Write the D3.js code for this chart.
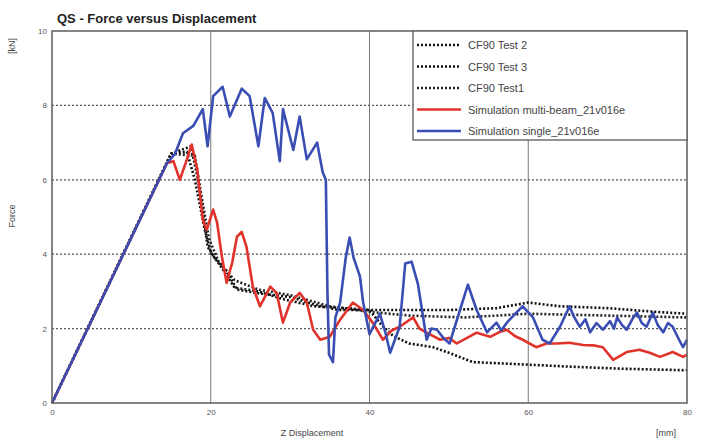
<!DOCTYPE html>
<html>
<head>
<meta charset="utf-8">
<script src="https://cdn.jsdelivr.net/npm/d3@7/dist/d3.min.js"></script>
<style>
  body { margin: 0; background: #fff; }
  svg { font-family: "Liberation Sans", Arial, sans-serif; }
</style>
</head>
<body>
<svg id="chart" width="703" height="442"></svg>
<script>
// tick values
var xTickValues = [0, 20, 40, 60, 80];
var yTickValues = [0, 2, 4, 6, 8, 10];

// CF90 test curves [mm, kN]
var test2 = [[0,0],[15,6.7],[17.5,6.9],[18.3,6.1],[19,5.2],[19.6,4.2],[20.5,3.9],[22,3.55],[23.3,3.05],[26,2.95],[30,2.85],[33,2.65],[36,2.5],[42,2.5],[50,2.5],[56,2.55],[60,2.7],[64,2.6],[70,2.55],[76,2.45],[80,2.4]];
var test3 = [[0,0],[15,6.7],[17,6.75],[18,6.0],[19.2,4.7],[20,4.05],[21.5,3.6],[23,3.1],[26,3.0],[29,2.8],[33,2.6],[37,2.55],[40,2.5],[41.5,2.1],[43,1.8],[45,1.6],[48,1.5],[50,1.35],[53,1.1],[58,1.05],[66,0.97],[72,0.92],[80,0.88]];
var test1 = [[0,0],[15,6.7],[18,6.65],[18.8,5.6],[19.8,4.4],[21,3.8],[23,3.3],[26,3.05],[30,2.9],[35,2.6],[40,2.45],[45,2.35],[52,2.3],[60,2.4],[70,2.35],[80,2.3]];

// simulations
var multiBeam = [[0,0],[14.5,6.45],[15.3,6.5],[16.1,6.0],[17,6.55],[17.6,6.95],[18.3,6.28],[19,4.93],[19.5,4.66],[20.3,5.2],[20.8,4.85],[21.4,3.94],[22,3.23],[22.7,3.77],[23.3,4.47],[23.9,4.6],[24.5,4.2],[25.3,3.13],[26.2,2.6],[27.5,3.13],[28.3,2.96],[29.1,2.16],[30,2.7],[31.2,2.96],[32.1,2.7],[32.9,1.97],[33.8,1.7],[35,1.78],[36.3,2.24],[37.9,2.7],[39.2,2.5],[40.4,2.16],[41.7,1.7],[42.8,1.95],[43.8,2.05],[45.5,2.3],[46.3,2.0],[47.2,1.89],[48.9,1.7],[50,1.75],[51,1.6],[52.3,1.75],[53.5,1.89],[55.2,1.78],[56.3,1.9],[57.3,1.97],[58.3,1.8],[59.3,1.7],[61,1.5],[62.3,1.6],[63.6,1.6],[65.2,1.62],[66.9,1.56],[68.2,1.55],[69.4,1.5],[70.7,1.16],[72.4,1.37],[74,1.43],[75.3,1.35],[76.6,1.24],[78.2,1.37],[79.5,1.24],[80,1.3]];
var single = [[0,0],[14.5,6.45],[15.5,6.7],[16.5,7.25],[17.8,7.45],[19,7.9],[19.6,6.9],[20.3,8.25],[21.5,8.5],[22.4,7.7],[23.9,8.45],[24.9,8.25],[26,6.9],[26.8,8.2],[27.8,7.8],[28.7,6.5],[29.1,7.9],[30.4,6.8],[31.2,7.7],[32.1,6.55],[33.4,7.0],[34.1,6.2],[34.5,6.0],[34.7,3.0],[34.9,1.3],[35.4,1.1],[35.7,2.3],[36.3,2.7],[37.0,3.9],[37.5,4.45],[38.0,3.9],[38.8,3.4],[39.2,2.7],[40,1.85],[40.6,2.1],[41.3,2.4],[42.0,1.9],[42.6,1.35],[43.8,2.05],[44.5,3.75],[45.3,3.8],[46.1,3.2],[47.2,1.7],[47.8,2.0],[48.5,1.97],[49.3,1.75],[50.1,1.6],[51.4,2.5],[52.4,3.18],[53.5,2.5],[54.8,1.9],[56,2.16],[56.6,1.95],[57.3,2.16],[58.5,2.43],[59.3,2.6],[60.6,2.3],[61.8,1.7],[62.7,1.6],[64,2.05],[65.2,2.6],[65.8,2.3],[66.5,2.05],[67.2,2.25],[67.8,1.9],[68.6,2.15],[69.4,1.97],[70.3,2.2],[70.8,2.0],[71.2,2.3],[71.8,2.1],[72.4,1.97],[73.1,2.25],[73.7,2.43],[74.3,2.15],[74.9,2.05],[75.7,2.43],[76.3,2.1],[77,1.9],[77.6,2.15],[78.2,2.05],[79.0,1.7],[79.5,1.5],[80,1.7]];

var seriesNames = ["CF90 Test 2", "CF90 Test 3", "CF90 Test1", "Simulation multi-beam_21v016e", "Simulation single_21v016e"];
var seriesData = [test2, test3, test1, multiBeam, single];
var seriesColors = ["#111", "#111", "#222", "#e0332b", "#3a4db3"];
var seriesDash = ["2,2", "2,2", "2,2", null, null];

var plotLeft = 52, plotRight = 687, plotTop = 31, plotBottom = 403;

var svg = d3.select("#chart");
var x = d3.scaleLinear().domain([0, 80]).range([plotLeft, plotRight]);
var y = d3.scaleLinear().domain([0, 10]).range([plotBottom, plotTop]);

// grid
svg.append("g").selectAll("line").data(xTickValues.slice(1, -1)).enter().append("line")
  .attr("x1", x).attr("x2", x).attr("y1", plotTop).attr("y2", plotBottom)
  .attr("stroke", "#777").attr("stroke-width", 1);
svg.append("g").selectAll("line").data(yTickValues.slice(1, -1)).enter().append("line")
  .attr("x1", plotLeft).attr("x2", plotRight).attr("y1", y).attr("y2", y)
  .attr("stroke", "#555").attr("stroke-width", 1.2).attr("stroke-dasharray", "2,2");

// axes
var xAxis = d3.axisBottom(x).tickValues(xTickValues).tickSize(0).tickPadding(6);
var yAxis = d3.axisLeft(y).tickValues(yTickValues).tickSize(0).tickPadding(5);
var gx = svg.append("g").attr("transform", "translate(0," + plotBottom + ")").call(xAxis);
var gy = svg.append("g").attr("transform", "translate(" + plotLeft + ",0)").call(yAxis);
[gx, gy].forEach(function(g) {
  g.select(".domain").remove();
  g.selectAll("text").attr("fill", "#555").style("font-size", "8px");
});

// series
var line = d3.line().x(function(d) { return x(d[0]); }).y(function(d) { return y(d[1]); });
svg.append("g").selectAll("path").data(seriesData).enter().append("path")
  .attr("d", line)
  .attr("fill", "none")
  .attr("stroke", function(d, i) { return seriesColors[i]; })
  .attr("stroke-width", function(d, i) { return seriesDash[i] ? 2.6 : 2.6; })
  .attr("stroke-dasharray", function(d, i) { return seriesDash[i]; })
  .attr("stroke-linejoin", "round");

// frame
svg.append("rect").attr("x", plotLeft).attr("y", plotTop).attr("width", plotRight - plotLeft).attr("height", plotBottom - plotTop)
  .attr("fill", "none").attr("stroke", "#666").attr("stroke-width", 1.6);

// legend
var lg = svg.append("g");
lg.append("rect").attr("x", 413).attr("y", plotTop).attr("width", plotRight - 413).attr("height", 140 - plotTop)
  .attr("fill", "#fff").attr("stroke", "#666").attr("stroke-width", 1.4);
var items = lg.selectAll("g.item").data(seriesNames).enter().append("g")
  .attr("transform", function(d, i) { return "translate(0," + (45 + i * 21.5) + ")"; });
items.append("line").attr("x1", 417).attr("x2", 461).attr("y1", 0).attr("y2", 0)
  .attr("stroke", function(d, i) { return seriesColors[i]; })
  .attr("stroke-width", 2.6)
  .attr("stroke-dasharray", function(d, i) { return seriesDash[i]; });
items.append("text").attr("x", 468).attr("y", 4).text(function(d) { return d; })
  .attr("fill", "#444").style("font-size", "11px");

// titles
svg.append("text").attr("x", 57).attr("y", 23).text("QS - Force versus Displacement")
  .attr("fill", "#222").style("font-size", "13px").style("font-weight", "bold");
svg.append("text").attr("transform", "translate(15,46) rotate(-90)").attr("text-anchor", "middle")
  .text("[kN]").attr("fill", "#444").style("font-size", "9px");
svg.append("text").attr("transform", "translate(15,216) rotate(-90)").attr("text-anchor", "middle")
  .text("Force").attr("fill", "#444").style("font-size", "9px");
svg.append("text").attr("x", 312).attr("y", 436).attr("text-anchor", "middle")
  .text("Z Displacement").attr("fill", "#444").style("font-size", "9px");
svg.append("text").attr("x", 666).attr("y", 436).attr("text-anchor", "middle")
  .text("[mm]").attr("fill", "#444").style("font-size", "9px");
</script>
</body>
</html>
